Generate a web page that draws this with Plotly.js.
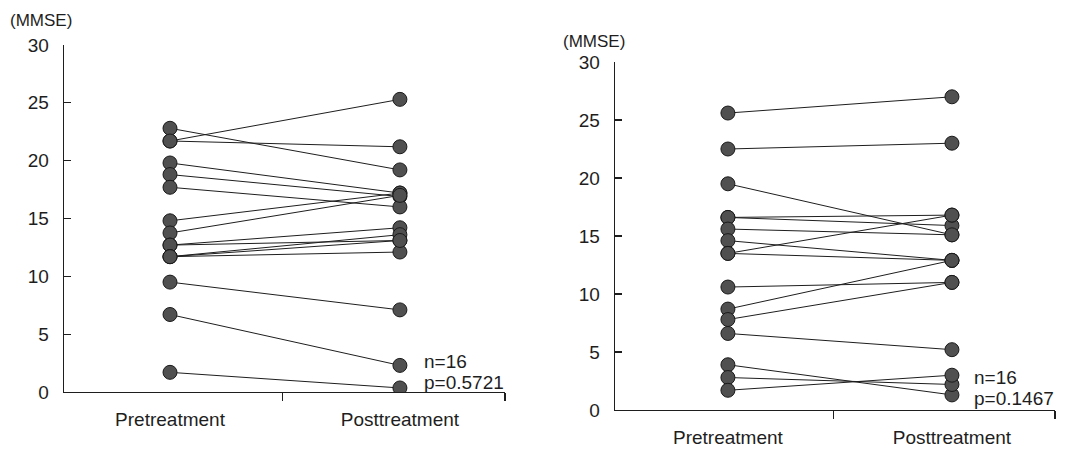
<!DOCTYPE html>
<html>
<head>
<meta charset="utf-8">
<script src="https://cdn.plot.ly/plotly-3.0.1.min.js"></script>
<style>html,body{margin:0;padding:0;background:#fff;}#chart{width:1072px;height:456px;}</style>
</head>
<body>
<div id="chart"></div>
<script>
// Categories
const categories = ["Pretreatment", "Posttreatment"];
const yTicks = [0, 5, 10, 15, 20, 25, 30];

// Left panel: paired MMSE scores (pre -> post), 16 subjects
const leftPre  = [21.7, 22.8, 21.7, 19.8, 18.8, 17.7, 14.8, 13.75, 12.7, 12.7, 11.7, 11.7, 11.7, 9.5, 6.7, 1.7];
const leftPost = [25.3, 19.2, 21.2, 17.2, 16.9, 16.0, 17.2, 17.0, 14.2, 13.1, 13.6, 12.1, 13.1, 7.1, 2.3, 0.35];
const leftStats = ["n=16", "p=0.5721"];

// Right panel: paired MMSE scores (pre -> post), 16 subjects
const rightPre  = [25.6, 22.5, 19.5, 16.6, 16.6, 15.6, 14.6, 13.5, 13.5, 10.6, 8.7, 7.8, 6.6, 3.9, 2.8, 1.7];
const rightPost = [27.0, 23.0, 15.1, 15.9, 16.8, 15.1, 12.9, 16.8, 12.9, 11.0, 12.9, 11.0, 5.2, 1.3, 2.2, 3.0];
const rightStats = ["n=16", "p=0.1467"];

function pairs(pre, post) {
  const x = [], y = [];
  for (let i = 0; i < pre.length; i++) {
    x.push(0, 1, null);
    y.push(pre[i], post[i], null);
  }
  return {x, y};
}

const ink = '#1e1e1e';
const markerStyle = {size: 14, color: '#505050', line: {color: '#1a1a1a', width: 1}};
const font = {family: 'Liberation Sans, Arial, sans-serif', size: 19, color: ink};

const L = pairs(leftPre, leftPost);
const R = pairs(rightPre, rightPost);

const traces = [
  {x: L.x, y: L.y, xaxis: 'x', yaxis: 'y', mode: 'lines+markers', type: 'scatter',
   line: {color: ink, width: 1}, marker: markerStyle, hoverinfo: 'skip', showlegend: false},
  {x: R.x, y: R.y, xaxis: 'x2', yaxis: 'y2', mode: 'lines+markers', type: 'scatter',
   line: {color: ink, width: 1}, marker: markerStyle, hoverinfo: 'skip', showlegend: false}
];

const W = 1072, H = 456;
function xax(x0, x1, r0, r1, mid, anchor) {
  return {
    domain: [x0 / W, x1 / W], range: [r0, r1], anchor: anchor,
    showline: true, linecolor: ink, linewidth: 1.3, zeroline: false, showgrid: false,
    tickmode: 'array', tickvals: [0, 1], ticktext: categories, ticks: '',
    tickfont: font, ticklabelstandoff: 10,
    minor: {tickmode: 'array', tickvals: [mid, r1], ticks: 'outside', ticklen: 8, tickcolor: ink, tickwidth: 1.2, showgrid: false}
  };
}
function yax(yBottom, yTop, anchor) {
  return {
    domain: [(H - yBottom) / H, (H - yTop) / H], range: [0, 30], anchor: anchor,
    showline: true, linecolor: ink, linewidth: 1.3, zeroline: false, showgrid: false,
    tickmode: 'array', tickvals: yTicks, ticks: 'inside', ticklen: 7, tickcolor: ink, tickwidth: 1.2,
    tickfont: font, ticklabelstandoff: 10
  };
}

const layout = {
  width: W, height: H,
  margin: {l: 0, r: 0, t: 0, b: 0},
  paper_bgcolor: '#fff', plot_bgcolor: 'rgba(0,0,0,0)',
  font: font,
  xaxis: xax(64, 505, -0.461, 1.457, 0.49, 'y'),
  yaxis: yax(392, 45, 'x'),
  xaxis2: xax(615, 1055, -0.504, 1.460, 0.47, 'y2'),
  yaxis2: yax(410, 62, 'x2'),
  annotations: [
    {text: '(MMSE)', xref: 'paper', yref: 'paper', x: 8 / W, y: (H - 21) / H, xanchor: 'left', yanchor: 'middle', showarrow: false, font: {family: font.family, size: 17, color: ink}},
    {text: '(MMSE)', xref: 'paper', yref: 'paper', x: 561 / W, y: (H - 42) / H, xanchor: 'left', yanchor: 'middle', showarrow: false, font: {family: font.family, size: 17, color: ink}},
    {text: leftStats[0], xref: 'paper', yref: 'paper', x: 422 / W, y: (H - 361) / H, xanchor: 'left', yanchor: 'middle', showarrow: false, font: font},
    {text: leftStats[1], xref: 'paper', yref: 'paper', x: 422 / W, y: (H - 382) / H, xanchor: 'left', yanchor: 'middle', showarrow: false, font: font},
    {text: rightStats[0], xref: 'paper', yref: 'paper', x: 972 / W, y: (H - 377) / H, xanchor: 'left', yanchor: 'middle', showarrow: false, font: font},
    {text: rightStats[1], xref: 'paper', yref: 'paper', x: 972 / W, y: (H - 398) / H, xanchor: 'left', yanchor: 'middle', showarrow: false, font: font}
  ]
};

Plotly.newPlot('chart', traces, layout, {staticPlot: true, displayModeBar: false});
</script>
</body>
</html>
